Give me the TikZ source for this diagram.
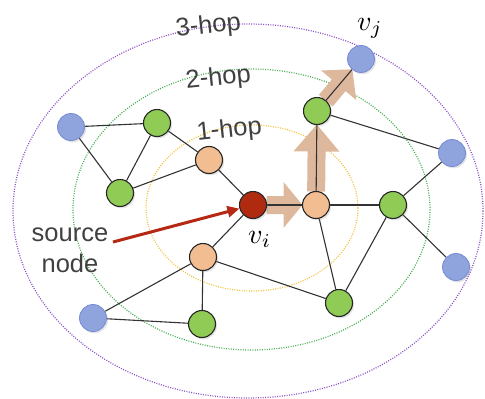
\documentclass[tikz,border=0pt]{standalone}
\usepackage{fontspec}
\setmainfont{Liberation Sans}
\usetikzlibrary{arrows.meta,shadows,calc}
\pgfdeclarelayer{bg}
\pgfsetlayers{bg,main}
\definecolor{nred}{RGB}{176,42,15}
\definecolor{norange}{RGB}{242,190,145}
\definecolor{ngreen}{RGB}{143,203,85}
\definecolor{nblue}{RGB}{143,163,221}
\definecolor{nbluedraw}{RGB}{118,138,214}
\definecolor{hopyellow}{RGB}{240,196,60}
\definecolor{hopgreen}{RGB}{70,175,80}
\definecolor{hoppurple}{RGB}{140,80,200}
\definecolor{tanarrow}{RGB}{221,184,156}
\definecolor{labelgray}{RGB}{64,64,64}
\definecolor{srcred}{RGB}{180,40,20}
% block arrow from node #1 to node #2, head length #3
\newcommand\tanblock[3]{%
  \path ($(#1)!13.5pt!(#2)$) coordinate (tbS)
        ($(#2)!13.5pt!(#1)$) coordinate (tbT)
        ($(tbT)!#3!(tbS)$) coordinate (tbH);
  \fill[tanarrow]
    ($(tbS)!9pt!90:(tbT)$) -- ($(tbH)!9pt!-90:(tbS)$) -- ($(tbH)!23pt!-90:(tbS)$)
    -- (tbT) -- ($(tbH)!23pt!90:(tbS)$) -- ($(tbH)!9pt!90:(tbS)$)
    -- ($(tbS)!9pt!-90:(tbT)$) -- cycle;
}
\begin{document}
\begin{tikzpicture}[x=1pt,y=-1pt,
  vtx/.style={circle, minimum size=27pt, inner sep=0pt, line width=1.1pt, draw=black!85,
    drop shadow={opacity=0.22, shadow xshift=1.5pt, shadow yshift=-1.8pt}},
  redv/.style={vtx, fill=nred},
  orv/.style={vtx, fill=norange},
  grv/.style={vtx, fill=ngreen},
  blv/.style={vtx, fill=nblue, draw=nbluedraw, line width=0.8pt},
  edge/.style={line width=1.1pt, draw=black!80},
  hop/.style={line width=1.2pt, dash pattern=on 1pt off 1.4pt},
  hoplabel/.style={font=\fontsize{25.5}{31}\selectfont, text=labelgray, inner sep=0pt, rotate=6, anchor=base},
  mathlabel/.style={inner sep=0pt, anchor=base west},
]
\useasboundingbox (0,0) rectangle (485,399);

% nodes
\path
  (253,205) node[redv] (vi) {}
  (316,205) node[orv] (oR) {}
  (393,205) node[grv] (gR) {}
  (203,257) node[orv] (oLL) {}
  (93,318)  node[blv] (bLB) {}
  (202,324) node[grv] (gB) {}
  (339,303) node[grv] (gBR) {}
  (456,267) node[blv] (bRB) {}
  (452,153) node[blv] (bRU) {}
  (317,111) node[grv] (gT) {}
  (361,59)  node[blv] (vj) {}
  (209,160) node[orv] (oUL) {}
  (157,123) node[grv] (gUL) {}
  (71,127)  node[blv] (bUL) {}
  (120,193) node[grv] (gL) {};

\begin{pgfonlayer}{bg}
% hop ellipses
\draw[hop, draw=hoppurple] (248,211) ellipse [x radius=235, y radius=187];
\draw[hop, draw=hopgreen] (251.5,209.5) ellipse [x radius=178.5, y radius=140.5];
\draw[hop, draw=hopyellow] (252,208) ellipse [x radius=106, y radius=83];
% tan path arrows
\tanblock{vi}{oR}{19pt}
\tanblock{oR}{gT}{27pt}
\tanblock{gT}{vj}{21pt}
% edges
\draw[edge] (bUL) -- (gUL);
\draw[edge] (bUL) -- (gL);
\draw[edge] (gUL) -- (gL);
\draw[edge] (gUL) -- (oUL);
\draw[edge] (oUL) -- (gL);
\draw[edge] (oUL) -- (vi);
\draw[edge] (vi) -- (oR);
\draw[edge] (vi) -- (oLL);
\draw[edge] (oR) -- (gR);
\draw[edge] (oR) -- (gT);
\draw[edge] (oR) -- (gBR);
\draw[edge] (gT) -- (vj);
\draw[edge] (gT) -- (bRU);
\draw[edge] (gR) -- (bRU);
\draw[edge] (gR) -- (bRB);
\draw[edge] (gR) -- (gBR);
\draw[edge] (oLL) -- (bLB);
\draw[edge] (oLL) -- (gB);
\draw[edge] (oLL) -- (gBR);
\draw[edge] (bLB) -- (gB);
\end{pgfonlayer}

% hop labels
\node[hoplabel] (l3) at (209,33) {3-hop};
\node[hoplabel] (l2) at (219,85) {2-hop};
\node[hoplabel] (l1) at (230,137) {1-hop};

% math labels
\node[mathlabel] (vil) at (248,243) {\scalebox{2.8}{$v_i$}};
\node[mathlabel] (vjl) at (357,30) {\scalebox{2.8}{$v_j$}};

% source node
\node[font=\fontsize{25.5}{31}\selectfont, text=labelgray, align=center, inner sep=0pt, anchor=base] (src) at (70,272) {source\\node};
\coordinate (srcstart) at (113,242);
\draw[srcred, line width=3pt, -{Triangle[length=12pt,width=11pt]}] (srcstart) -- (vi);
\end{tikzpicture}
\end{document}
